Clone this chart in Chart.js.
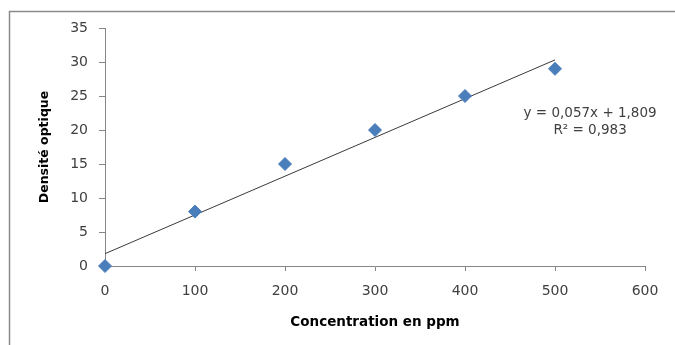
<!DOCTYPE html>
<html><head><meta charset="utf-8">
<script src="https://cdn.jsdelivr.net/npm/chart.js@4"></script>
<style>html,body{margin:0;padding:0;background:#fff}canvas{display:block}</style>
</head><body>
<canvas id="c" width="675" height="345"></canvas>
<script>
const concentrations = [0, 100, 200, 300, 400, 500];
const densities = [0, 8, 15, 20, 25, 29];
const trendX = [0, 500];
const trendY = [1.809, 30.309];
const equationLines = ['y = 0,057x + 1,809', 'R\u00b2 = 0,983'];
const xTitle = 'Concentration en ppm';
const yTitle = 'Densité optique';

const FONT = '"DejaVu Sans", sans-serif';
const textColor = '#404040';
const axisColor = '#868686';

const framePlugin = {
  id: 'frame',
  beforeDraw(chart) {
    const ctx = chart.ctx;
    ctx.save();
    ctx.fillStyle = '#fff';
    ctx.fillRect(0, 0, chart.width, chart.height);
    ctx.strokeStyle = '#8a8a8a';
    ctx.lineWidth = 1.5;
    ctx.strokeRect(9.5, 11.5, chart.width + 20, chart.height + 20);
    ctx.restore();
  },
  afterDraw(chart) {
    const ctx = chart.ctx;
    const xs = chart.scales.x, ys = chart.scales.y;
    ctx.save();
    ctx.fillStyle = textColor;
    ctx.font = '13.5px ' + FONT;
    ctx.textAlign = 'center';
    ctx.textBaseline = 'middle';
    const cx = xs.getPixelForValue(539);
    ctx.fillText(equationLines[0], cx, ys.getPixelForValue(22.5));
    ctx.fillText(equationLines[1], cx, ys.getPixelForValue(20.0));
    ctx.restore();
  }
};

new Chart(document.getElementById('c'), {
  type: 'scatter',
  data: {
    datasets: [
      {
        label: 'Densité',
        data: concentrations.map((x, i) => ({x, y: densities[i]})),
        pointStyle: 'rectRot',
        pointRadius: 6.5,
        pointHoverRadius: 6.5,
        backgroundColor: '#4a7ebb',
        borderColor: '#4a7ebb',
        borderWidth: 1,
        clip: false,
        order: 1
      },
      {
        label: 'Tendance',
        type: 'line',
        data: trendX.map((x, i) => ({x, y: trendY[i]})),
        borderColor: '#3a3a3a',
        borderWidth: 1,
        pointRadius: 0,
        fill: false,
        order: 2
      }
    ]
  },
  options: {
    responsive: false,
    animation: false,
    devicePixelRatio: 1,
    layout: { padding: { left: 0, top: 28, right: 30, bottom: 0 } },
    plugins: { legend: { display: false }, tooltip: { enabled: false } },
    scales: {
      x: {
        type: 'linear', min: 0, max: 600,
        ticks: { stepSize: 100, color: textColor, font: { family: FONT, size: 14 }, padding: 12 },
        grid: { display: true, drawOnChartArea: false, drawTicks: true, tickLength: 5, color: axisColor },
        border: { color: axisColor, width: 1 },
        title: { display: true, text: xTitle, color: '#000', font: { family: FONT, size: 13.5, weight: 'bold' }, padding: { bottom: 14, top: 0 } },
        afterFit(s) { s.height = 79; }
      },
      y: {
        type: 'linear', min: 0, max: 35,
        ticks: { stepSize: 5, color: textColor, font: { family: FONT, size: 14 }, padding: 11 },
        grid: { display: true, drawOnChartArea: false, drawTicks: true, tickLength: 6, color: axisColor },
        border: { color: axisColor, width: 1 },
        title: { display: true, text: yTitle, color: '#000', font: { family: FONT, size: 12.5, weight: 'bold' }, padding: { top: 37, bottom: 0 } },
        afterFit(s) { s.width = 105; }
      }
    }
  },
  plugins: [framePlugin]
});
</script>
</body></html>
